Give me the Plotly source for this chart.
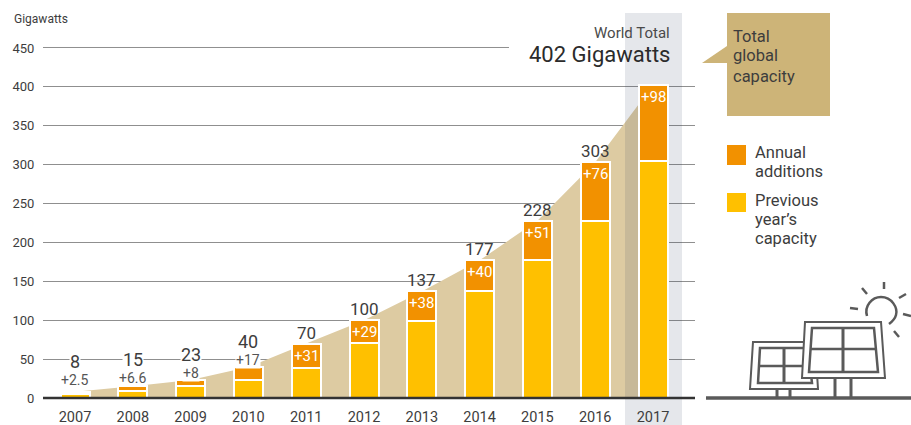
import plotly.graph_objects as go

# ---- data ----
years = [2007, 2008, 2009, 2010, 2011, 2012, 2013, 2014, 2015, 2016, 2017]
totals = [8, 15, 23, 40, 70, 100, 137, 177, 228, 303, 402]
previous = [5.5, 8.4, 15, 23, 39, 71, 99, 137, 177, 227, 305]
additions = [2.5, 6.6, 8, 17, 31, 29, 38, 40, 51, 76, 97]
addition_labels = ["+2.5", "+6.6", "+8", "+17", "+31", "+29", "+38", "+40", "+51", "+76", "+98"]
y_ticks = [0, 50, 100, 150, 200, 250, 300, 350, 400, 450]
grid_values = [50, 100, 150, 200, 250, 300, 350, 400]

# ---- styling / layout ----
W, H = 911, 425
L, R = 43, 695          # plot area in page pixels
FONT = "Roboto"
TXT = "#3d3d3d"
ORANGE, YELLOW, TAN, CALLOUT = "#F29100", "#FFC000", "#DDCBA2", "#CDB478"
ICON = "#5a5a5a"

PX_PER_YEAR = 57.8
X0_PX = 75
xr = [2007 + (L - X0_PX) / PX_PER_YEAR, 2007 + (R - X0_PX) / PX_PER_YEAR]
PX_PER_UNIT = 350 / 450
ZERO_PX = 398
yr = [(ZERO_PX - H) / PX_PER_UNIT, ZERO_PX / PX_PER_UNIT]
BAR_W = 29 / PX_PER_YEAR


def year_from_px(p):
    return 2007 + (p - X0_PX) / PX_PER_YEAR


def val_from_px(p):
    return (ZERO_PX - p) / PX_PER_UNIT


def fx(p):
    return (p - L) / (R - L)


def fy(p):
    return (H - p) / H


def path(points, close=False):
    s = "M" + " L".join(f"{fx(a):.5f},{fy(b):.5f}" for a, b in points)
    return s + (" Z" if close else "")


fig = go.Figure()

# tan area of world total (main axes, below the gridlines of the overlay axes)
fig.add_trace(go.Scatter(x=years, y=totals, mode="lines", fill="tozeroy", fillcolor=TAN,
                         line=dict(width=0), hoverinfo="skip", showlegend=False))
# grey highlight band for 2017
bx = [year_from_px(625), year_from_px(682), year_from_px(682), year_from_px(625), year_from_px(625)]
by = [val_from_px(13), val_from_px(13), yr[0], yr[0], val_from_px(13)]
fig.add_trace(go.Scatter(x=bx, y=by, mode="lines", fill="toself", fillcolor="rgba(40,60,90,0.12)",
                         line=dict(width=0), hoverinfo="skip", showlegend=False))
# stacked bars on overlay axes
fig.add_trace(go.Bar(x=years, y=previous, name="Previous year's capacity", width=BAR_W,
                     marker=dict(color=YELLOW, line=dict(color="white", width=2)),
                     xaxis="x2", yaxis="y2", showlegend=False))
fig.add_trace(go.Bar(x=years, y=additions, name="Annual additions", width=BAR_W,
                     marker=dict(color=ORANGE, line=dict(color="white", width=2)),
                     xaxis="x2", yaxis="y2", showlegend=False))

ann = []
small_total_shift = {2007: 30, 2008: 27, 2009: 26, 2010: 25}
small_add_shift = {2007: 12, 2008: 8, 2009: 7, 2010: 7}
for yr_i, tot, lab in zip(years, totals, addition_labels):
    if yr_i in small_total_shift:
        ann.append(dict(x=yr_i, y=tot, xref="x2", yref="y2", text=str(tot), showarrow=False,
                        yanchor="middle", yshift=small_total_shift[yr_i], bgcolor="white", borderpad=0,
                        font=dict(family=FONT, size=18, color=TXT)))
        ann.append(dict(x=yr_i, y=tot, xref="x2", yref="y2", text=lab, showarrow=False,
                        yanchor="middle", yshift=small_add_shift[yr_i], bgcolor="white", borderpad=0,
                        font=dict(family=FONT, size=14, color="#555555")))
    else:
        if yr_i != 2017:
            ann.append(dict(x=yr_i, y=tot, xref="x2", yref="y2", text=str(tot), showarrow=False,
                            yanchor="middle", yshift=11,
                            font=dict(family=FONT, size=17, color=TXT)))
        ann.append(dict(x=yr_i, y=tot, xref="x2", yref="y2", text=lab, showarrow=False,
                        yanchor="middle", yshift=-12,
                        font=dict(family=FONT, size=15, color="white")))


def page_text(x, y, text, size, color=TXT, anchor="left"):
    ann.append(dict(x=fx(x), y=fy(y), xref="paper", yref="paper", text=text, showarrow=False,
                    xanchor=anchor, yanchor="middle", align=anchor, borderpad=0, borderwidth=0,
                    font=dict(family=FONT, size=size, color=color)))


page_text(14, 19, "Gigawatts", 12)
page_text(670, 33, "World Total", 15, "#4a4a4a", "right")
page_text(670, 55, "402 Gigawatts", 22, "#2b2b2b", "right")
for txt, yy in [("Total", 36), ("global", 56), ("capacity", 76)]:
    page_text(733, yy, txt, 16.5)
for txt, yy in [("Annual", 152), ("additions", 171), ("Previous", 201), ("year\u2019s", 220), ("capacity", 238)]:
    page_text(755, yy, txt, 16.5)

shapes = []


def add_rect(x0, y0, x1, y1, color):
    shapes.append(dict(type="rect", xref="paper", yref="paper", x0=fx(x0), x1=fx(x1), y0=fy(y0), y1=fy(y1),
                       fillcolor=color, line=dict(width=0), layer="above"))


def add_path(points, color=ICON, width=2.5, fill=None, close=False):
    d = dict(type="path", xref="paper", yref="paper", path=path(points, close),
             line=dict(color=color, width=width), layer="above")
    if fill:
        d["fillcolor"] = fill
    shapes.append(d)


# zero axis line & 450 gridline
add_path([(43, 398), (695, 398)], "#333333", 2.5)
add_path([(43, 47.5), (509, 47.5)], "#8f8f8f", 1)

# callout
add_rect(727, 13, 830, 116, CALLOUT)
add_path([(702, 63), (727, 46), (727, 63)], CALLOUT, 0, CALLOUT, True)
# legend swatches
add_rect(727, 145, 746, 165, ORANGE)
add_rect(727, 193, 746, 212, YELLOW)

# solar panels icon
add_path([(706, 398), (911, 398)], ICON, 3.5)
for a, top, bot in [(777, 389, 398), (790, 389, 398), (835, 378, 398), (851, 378, 398)]:
    add_path([(a, top), (a, bot)], ICON, 3)
add_path([(753, 342), (815, 342), (818, 389), (750, 389)], ICON, 2, "white", True)
add_path([(760, 348), (808, 348), (812, 383), (758, 383)], ICON, 2.5, "white", True)
add_path([(784, 348), (784, 383)], ICON, 3)
add_path([(759, 366), (810, 366)], ICON, 2.5)
add_path([(805, 322), (881, 322), (885, 378), (802, 378)], ICON, 2, "white", True)
add_path([(812, 328), (874, 328), (878, 372), (809, 372)], ICON, 2.5, "white", True)
add_path([(843, 328), (843, 372)], ICON, 3)
add_path([(811, 349), (876, 349)], ICON, 2.5)
sun = (f"M{fx(867):.5f},{fy(316):.5f} C{fx(864):.5f},{fy(306):.5f} {fx(872):.5f},{fy(297):.5f} {fx(881):.5f},{fy(297):.5f} "
       f"C{fx(892):.5f},{fy(297):.5f} {fx(898):.5f},{fy(308):.5f} {fx(896):.5f},{fy(315):.5f} "
       f"C{fx(895):.5f},{fy(319):.5f} {fx(893):.5f},{fy(321):.5f} {fx(889):.5f},{fy(324):.5f}")
shapes.append(dict(type="path", xref="paper", yref="paper", path=sun, line=dict(color=ICON, width=2.5), layer="above"))
for seg in [[(862, 288), (867, 294)], [(884, 282), (884, 289)], [(899, 298), (906, 294)],
            [(903, 314), (911, 316)], [(894, 331), (899, 337)], [(850, 308), (858, 309)]]:
    add_path(seg, ICON, 2.5)

fig.update_layout(
    width=W, height=H, barmode="stack", paper_bgcolor="white", plot_bgcolor="white",
    margin=dict(l=L, r=W - R, t=0, b=0, autoexpand=False),
    showlegend=False, bargap=0, annotations=ann, shapes=shapes,
    font=dict(family=FONT, color=TXT),
    xaxis=dict(range=xr, tickmode="array", tickvals=years, ticks="", showgrid=False, zeroline=False,
               showline=False, ticklabelposition="inside", ticklabelstandoff=-3,
               tickfont=dict(family=FONT, size=14.5, color=TXT)),
    yaxis=dict(range=yr, tickmode="array", tickvals=y_ticks, ticks="outside", ticklen=5, tickcolor="white",
               showgrid=False, zeroline=False, showline=False, tickfont=dict(family=FONT, size=13, color=TXT)),
    xaxis2=dict(range=xr, overlaying="x", visible=False),
    yaxis2=dict(range=yr, overlaying="y", side="left", tickmode="array", tickvals=grid_values,
                showticklabels=False, ticks="", showgrid=True, gridcolor="#8f8f8f", gridwidth=1,
                zeroline=False, showline=False),
)

fig.write_html("out.html", post_script="document.body.style.margin='0';document.body.style.overflow='hidden';",
               config=dict(displayModeBar=False))
